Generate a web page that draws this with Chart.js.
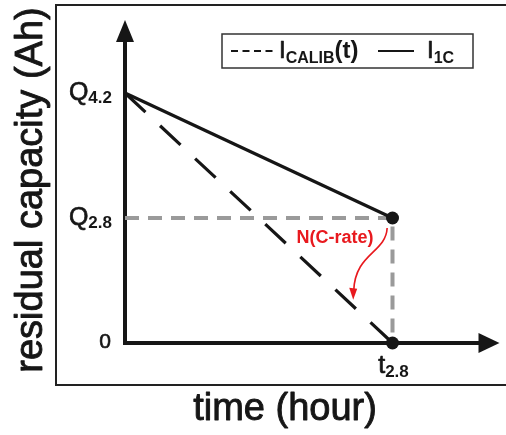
<!DOCTYPE html>
<html><head><meta charset="utf-8">
<script src="https://cdn.jsdelivr.net/npm/chart.js@4"></script>
<style>html,body{margin:0;padding:0;background:#fff}canvas{display:block}</style>
</head><body>
<canvas id="c" width="506" height="435"></canvas>
<script>
// ---- data ----
const timePoints = [0, 1];            // start, t2.8 (normalised time)
const capacityCalib = [2, 0];         // I_CALIB(t): Q4.2 -> 0
const capacity1C = [2, 1];            // I_1C: Q4.2 -> Q2.8
const seriesNames = [['I', 'CALIB', '(t)'], ['I', '1C', '']];
const yTickValues = [0, 1, 2];
const yTickLabels = [['0', ''], ['Q', '2.8'], ['Q', '4.2']];
const xTickValues = [1];
const xTickLabels = [['t', '2.8']];
const annotationText = 'N(C-rate)';
const xTitle = 'time (hour)';
const yTitle = 'residual capacity (Ah)';

const FONT = '"Liberation Sans", Arial, sans-serif';
const INK = '#161616';

function heavyText(ctx, txt, x, y, w) {
  ctx.fillText(txt, x, y);
  ctx.save();
  ctx.strokeStyle = ctx.fillStyle;
  ctx.lineWidth = w;
  ctx.lineJoin = 'round';
  ctx.strokeText(txt, x, y);
  ctx.restore();
}

function subText(ctx, x, y, main, sub, mainSize, subSize, align, subDrop) {
  ctx.font = mainSize + 'px ' + FONT;
  const wm = ctx.measureText(main).width;
  ctx.font = 'bold ' + subSize + 'px ' + FONT;
  const ws = ctx.measureText(sub).width;
  const total = wm + ws;
  let x0 = x;
  if (align === 'right') x0 = x - total;
  else if (align === 'center') x0 = x - total / 2;
  ctx.textAlign = 'left';
  ctx.textBaseline = 'alphabetic';
  ctx.font = mainSize + 'px ' + FONT;
  heavyText(ctx, main, x0, y, 0.7);
  ctx.font = 'bold ' + subSize + 'px ' + FONT;
  ctx.fillText(sub, x0 + wm, y + subDrop);
  return x0 + total;
}

const decor = {
  id: 'decor',
  beforeDatasetsDraw(chart) {
    const ctx = chart.ctx, xs = chart.scales.x, ys = chart.scales.y, a = chart.chartArea;
    ctx.save();
    // outer frame
    ctx.strokeStyle = '#222';
    ctx.lineWidth = 2;
    ctx.beginPath();
    ctx.moveTo(515, 5); ctx.lineTo(56, 5); ctx.lineTo(56, 385); ctx.lineTo(515, 385);
    ctx.stroke();
    // axes
    const x0 = xs.getPixelForValue(0), y0 = ys.getPixelForValue(0);
    ctx.strokeStyle = INK; ctx.fillStyle = INK;
    ctx.lineWidth = 4;
    ctx.beginPath();
    ctx.moveTo(x0, y0 + 2); ctx.lineTo(x0, a.top + 20);
    ctx.moveTo(x0 - 2, y0); ctx.lineTo(a.right - 18, y0);
    ctx.stroke();
    // arrowheads
    ctx.beginPath();
    ctx.moveTo(x0, a.top + 2); ctx.lineTo(x0 - 9, a.top + 24); ctx.lineTo(x0 + 9, a.top + 24); ctx.closePath();
    ctx.fill();
    ctx.beginPath();
    ctx.moveTo(a.right, y0); ctx.lineTo(a.right - 21, y0 - 10); ctx.lineTo(a.right - 21, y0 + 10); ctx.closePath();
    ctx.fill();
    ctx.restore();
  },
  afterDatasetsDraw(chart) {
    const ctx = chart.ctx, xs = chart.scales.x, ys = chart.scales.y;
    ctx.save();
    ctx.fillStyle = INK;
    // y tick labels
    yTickValues.forEach((v, i) => {
      const py = ys.getPixelForValue(v);
      const [m, s] = yTickLabels[i];
      if (s) subText(ctx, 112, py + 7, m, s, 25, 17, 'right', 3);
      else { ctx.font = '21px ' + FONT; ctx.textAlign = 'right'; ctx.textBaseline = 'alphabetic'; heavyText(ctx, m, 111, py + 5, 0.6); }
    });
    // x tick labels
    xTickValues.forEach((v, i) => {
      const px = xs.getPixelForValue(v);
      const [m, s] = xTickLabels[i];
      subText(ctx, px + 1, ys.getPixelForValue(0) + 30, m, s, 25, 17, 'center', 4);
    });
    // legend
    ctx.strokeStyle = '#333'; ctx.lineWidth = 1.5;
    ctx.strokeRect(222, 34, 251, 34);
    ctx.strokeStyle = INK; ctx.lineWidth = 2;
    ctx.setLineDash([7, 4.5]);
    ctx.beginPath(); ctx.moveTo(231, 51); ctx.lineTo(273, 51); ctx.stroke();
    ctx.setLineDash([]);
    let ex = subText(ctx, 279, 58, seriesNames[0][0], seriesNames[0][1], 24, 16, 'left', 5);
    ctx.font = 'bold 24px ' + FONT; ctx.fillText(seriesNames[0][2], ex, 58);
    ctx.beginPath(); ctx.moveTo(378, 51); ctx.lineTo(414, 51); ctx.stroke();
    subText(ctx, 427, 58, seriesNames[1][0], seriesNames[1][1], 24, 16, 'left', 5);
    // annotation
    const red = '#e8191e';
    ctx.fillStyle = red; ctx.strokeStyle = red;
    ctx.font = 'bold 18px ' + FONT; ctx.textAlign = 'center'; ctx.textBaseline = 'alphabetic';
    ctx.fillText(annotationText, xs.getPixelForValue(0.785), ys.getPixelForValue(0.8));
    const sx = xs.getPixelForValue(0.98), sy = ys.getPixelForValue(0.92);
    const ex2 = xs.getPixelForValue(0.855), ey2 = ys.getPixelForValue(0.37);
    ctx.lineWidth = 1.6;
    ctx.beginPath();
    ctx.moveTo(sx, sy);
    ctx.bezierCurveTo(xs.getPixelForValue(0.975), ys.getPixelForValue(0.72),
                      xs.getPixelForValue(0.86), ys.getPixelForValue(0.72), ex2, ey2 - 6);
    ctx.stroke();
    ctx.beginPath();
    ctx.moveTo(ex2 - 0.5, ey2 + 3); ctx.lineTo(ex2 - 4.5, ey2 - 9); ctx.lineTo(ex2 + 3.5, ey2 - 8); ctx.closePath();
    ctx.fill();
    // titles
    ctx.fillStyle = INK;
    ctx.font = '38px ' + FONT; ctx.textAlign = 'center'; ctx.textBaseline = 'alphabetic';
    heavyText(ctx, xTitle, 285, 420, 0.9);
    ctx.translate(42, 190); ctx.rotate(-Math.PI / 2);
    heavyText(ctx, yTitle, 0, 0, 0.9);
    ctx.restore();
  }
};

const toXY = (ys) => timePoints.map((t, i) => ({ x: t, y: ys[i] }));

new Chart(document.getElementById('c'), {
  type: 'line',
  data: {
    datasets: [
      { label: 'I_1C', data: toXY(capacity1C), borderColor: INK, borderWidth: 3.2, clip: false,
        pointRadius: [0, 6.5], pointBackgroundColor: INK, pointBorderWidth: 0, fill: false, tension: 0 },
      { label: 'I_CALIB(t)', data: toXY(capacityCalib), borderColor: INK, borderWidth: 3.2, borderDash: [28, 20], clip: false,
        pointRadius: [0, 6.5], pointBackgroundColor: INK, pointBorderWidth: 0, fill: false, tension: 0 },
      { label: 'ref', data: [{ x: timePoints[0], y: capacity1C[1] }, { x: timePoints[1], y: capacity1C[1] }, { x: timePoints[1], y: 0 }],
        borderColor: '#9a9a9a', borderWidth: 4, borderDash: [14, 9], pointRadius: 0, fill: false, tension: 0, clip: false }
    ]
  },
  options: {
    responsive: false, animation: false, events: [],
    layout: { padding: { left: 125, right: 6, top: 18, bottom: 92 } },
    scales: {
      x: { type: 'linear', min: 0, max: 1.4, display: false },
      y: { type: 'linear', min: 0, max: 2.6, display: false }
    },
    plugins: { legend: { display: false }, tooltip: { enabled: false } }
  },
  plugins: [decor]
});
</script>
</body></html>
